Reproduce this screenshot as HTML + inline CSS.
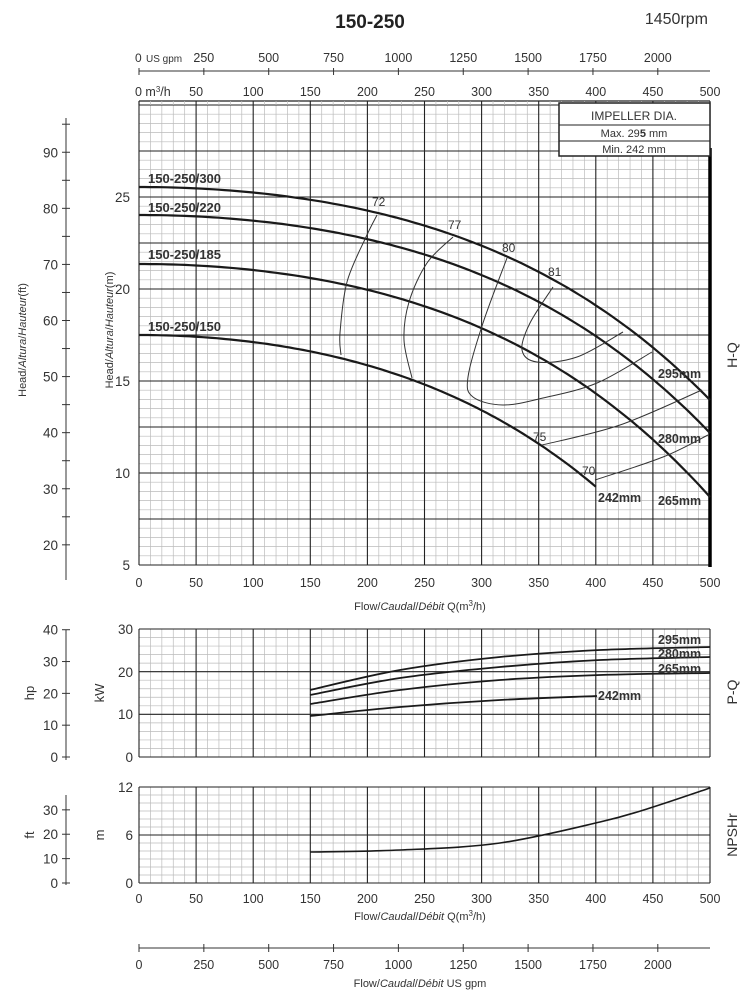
<!DOCTYPE html>
<html><head><meta charset="utf-8"><style>
html,body{margin:0;padding:0;background:#fff}
svg{display:block;font-family:"Liberation Sans",sans-serif}
</style></head><body>
<svg id="s" width="749" height="1000" viewBox="0 0 749 1000" xmlns="http://www.w3.org/2000/svg">
<text x="370" y="28" font-size="19" font-weight="bold" text-anchor="middle" fill="#222">150-250</text>
<text x="708" y="24" font-size="16" text-anchor="end" fill="#333">1450rpm</text>
<g id="g"></g>
</svg>
<script>
var G=document.getElementById('g'),h='';
function L(x1,y1,x2,y2,c,w){h+='<line x1="'+x1+'" y1="'+y1+'" x2="'+x2+'" y2="'+y2+'" stroke="'+c+'" stroke-width="'+w+'"/>';}
function T(x,y,s,fs,a,ex){h+='<text x="'+x+'" y="'+y+'" font-size="'+fs+'" text-anchor="'+(a||'start')+'" fill="#333" '+(ex||'')+'>'+s+'</text>';}
var X0=139,X1=710,px=(X1-X0)/500;
function xq(q){return X0+q*px;}
function grid(top,bot,nMaj,nMin){
  var H=bot-top;
  for(var i=0;i<=nMaj*nMin;i++){var y=top+H*i/(nMaj*nMin);if(i%nMin)L(X0,y,X1,y,'#bbb',0.7);}
  for(var q=0;q<=500;q+=10){if(q%50)L(xq(q),top,xq(q),bot,'#bbb',0.7);}
  for(var i=0;i<=nMaj;i++){var y=top+H*i/nMaj;L(X0,y,X1,y,'#222',1.1);}
  for(var q=0;q<=500;q+=50)L(xq(q),top,xq(q),bot,'#222',1.1);
}
grid(105,565,10,5); L(X0,101,X1,101,'#222',1.2);L(X0,101,X0,105,'#222',1.1);
for(var q=0;q<=500;q+=50)L(xq(q),101,xq(q),105,'#222',1.1);
for(var q=10;q<=500;q+=10)if(q%50)L(xq(q),101,xq(q),105,'#bbb',0.7);
grid(629,757,3,5);
grid(787,883,2,6);
L(X1,148,X1,567,'#000',3.5);
function path(p,w,c){var d='M'+p[0][0]+','+p[0][1];
 for(var i=0;i<p.length-1;i++){var a=p[i-1]||p[i],b=p[i],e=p[i+1],f=p[i+2]||e;
  d+=' C'+(b[0]+(e[0]-a[0])/6).toFixed(1)+','+(b[1]+(e[1]-a[1])/6).toFixed(1)+' '+(e[0]-(f[0]-b[0])/6).toFixed(1)+','+(e[1]-(f[1]-b[1])/6).toFixed(1)+' '+e[0]+','+e[1];}
 h+='<path d="'+d+'" fill="none" stroke="'+c+'" stroke-width="'+w+'"/>';}
function hq(y0,D,tmax){var d='';for(var i=0;i<=100;i++){var t=tmax*i/100;var x=X0+t*571,y=y0+D*(.634*t*t+.366*t*t*t*t);d+=(i?'L':'M')+x.toFixed(1)+','+y.toFixed(1);}
 h+='<path d="'+d+'" fill="none" stroke="#1a1a1a" stroke-width="2.2"/>';}
var K='#1a1a1a';
hq(187,213,1);hq(215,218,1);hq(264,233,1);hq(335,273,0.8);
path([[377,215],[366,237],[347,282],[340,333],[341,355]],1,'#333');
path([[453,237],[427,263],[409,302],[404,340],[412,378]],1,'#333');
path([[507,258],[483,323],[468,377],[473,397],[503,405],[543,398],[597,383],[652,352]],1,'#333');
path([[553,287],[530,323],[522,350],[537,362],[577,357],[623,332]],1,'#333');
path([[542,445],[620,425],[702,390]],1,'#333');
path([[595,480],[663,457],[708,435]],1,'#333');
T(372,206,'72',12);T(448,229,'77',12);T(502,252,'80',12);T(548,276,'81',12);T(533,441,'75',12);T(582,475,'70',12);
var B='font-weight="bold" fill="#111"';
T(148,183,'150-250/300',13,'start',B);T(148,212,'150-250/220',13,'start',B);T(148,259,'150-250/185',13,'start',B);T(148,331,'150-250/150',13,'start',B);
T(658,378,'295mm',12.5,'start',B);T(658,443,'280mm',12.5,'start',B);T(598,502,'242mm',12.5,'start',B);T(658,505,'265mm',12.5,'start',B);
h+='<rect x="559" y="103" width="151" height="53" fill="#fff" stroke="#222" stroke-width="1.5"/>';
L(559,125,710,125,'#222',1);L(559,141,710,141,'#222',1);
T(634,120,'IMPELLER DIA.',12,'middle');T(634,137,'Max.  29<tspan font-weight="bold">5</tspan>  mm',11,'middle');T(634,153,'Min.   242  mm',11,'middle');
path([[310,690],[400,670],[500,657],[600,650],[710,647]],1.8,K);
path([[310,695],[400,678],[500,667],[600,660],[710,657]],1.8,K);
path([[310,704],[400,690],[500,680],[600,675],[710,673]],1.8,K);
path([[310,716],[400,707],[500,700],[597,696]],1.8,K);
T(658,644,'295mm',12.5,'start',B);T(658,658,'280mm',12.5,'start',B);T(658,673,'265mm',12.5,'start',B);T(598,700,'242mm',12.5,'start',B);
path([[310,852],[400,850],[500,843],[600,822],[650,808],[710,788]],1.6,K);
[582,898].forEach(function(y){for(var q=0;q<=500;q+=50)T(xq(q),y+5,q,12.5,'middle');});
T(420,610,'Flow/<tspan font-style="italic">Caudal</tspan>/<tspan font-style="italic">Débit</tspan> Q(m<tspan font-size="8" dy="-4">3</tspan><tspan dy="4">/h)</tspan>',11,'middle');
T(420,920,'Flow/<tspan font-style="italic">Caudal</tspan>/<tspan font-style="italic">Débit</tspan> Q(m<tspan font-size="8" dy="-4">3</tspan><tspan dy="4">/h)</tspan>',11,'middle');
L(139,71,710,71,'#333',1);
var gp=0.2594;
for(var g=0;g<=2200;g+=250){var x=X0+g*gp;L(x,68,x,75,'#333',1);if(g>0)T(x,62,g,12.5,'middle');}
T(135,62,'0',12,'start');T(146,62,'US gpm',10,'start');
T(135,96,'0  m<tspan font-size="8" dy="-4">3</tspan><tspan dy="4">/h</tspan>',12.5,'start');
for(var q=50;q<=500;q+=50)T(xq(q),96,q,12.5,'middle');
L(139,948,710,948,'#333',1);
for(var g=0;g<=2200;g+=250){var x=X0+g*gp;L(x,944,x,952,'#333',1);T(x,969,g,12.5,'middle');}
T(420,987,'Flow/<tspan font-style="italic">Caudal</tspan>/<tspan font-style="italic">Débit</tspan>  US gpm',11,'middle');
for(var m=5;m<=25;m+=5){var y=565-(m-5)*18.4;T(130,y+5,m,13.5,'end');}
T(113,330,'Head/<tspan font-style="italic">Altura</tspan>/<tspan font-style="italic">Hauteur</tspan>(m)',11,'middle','transform="rotate(-90 113 330)"');
L(66,118,66,580,'#333',1);
for(var f=20;f<=95;f+=5){var y=565-(f*0.3048-5)*18.4;L(62,y,70,y,'#333',1);if(f%10==0)T(58,y+5,f,13.5,'end');}
T(26,340,'Head/<tspan font-style="italic">Altura</tspan>/<tspan font-style="italic">Hauteur</tspan>(ft)',11,'middle','transform="rotate(-90 26 340)"');
[[30,629],[20,672],[10,714],[0,757]].forEach(function(a){T(133,a[1]+5,a[0],13.5,'end');});
T(104,693,'kW',13,'middle','transform="rotate(-90 104 693)"');
L(66,630,66,760,'#333',1);
for(var p=0;p<=40;p+=10){var y=757-p*0.7457*4.267;L(62,y,70,y,'#333',1);T(58,y+5,p,13.5,'end');}
T(34,693,'hp',13,'middle','transform="rotate(-90 34 693)"');
[[12,787],[6,835],[0,883]].forEach(function(a){T(133,a[1]+5,a[0],13.5,'end');});
T(104,835,'m',13,'middle','transform="rotate(-90 104 835)"');
L(66,795,66,885,'#333',1);
for(var f=0;f<=30;f+=10){var y=883-f*0.3048*8;L(62,y,70,y,'#333',1);T(58,y+5,f,13.5,'end');}
T(34,835,'ft',13,'middle','transform="rotate(-90 34 835)"');
T(737,355,'H-Q',14,'middle','transform="rotate(-90 737 355)"');
T(737,692,'P-Q',14,'middle','transform="rotate(-90 737 692)"');
T(737,835,'NPSHr',14,'middle','transform="rotate(-90 737 835)"');
G.innerHTML=h;
</script>
</body></html>
